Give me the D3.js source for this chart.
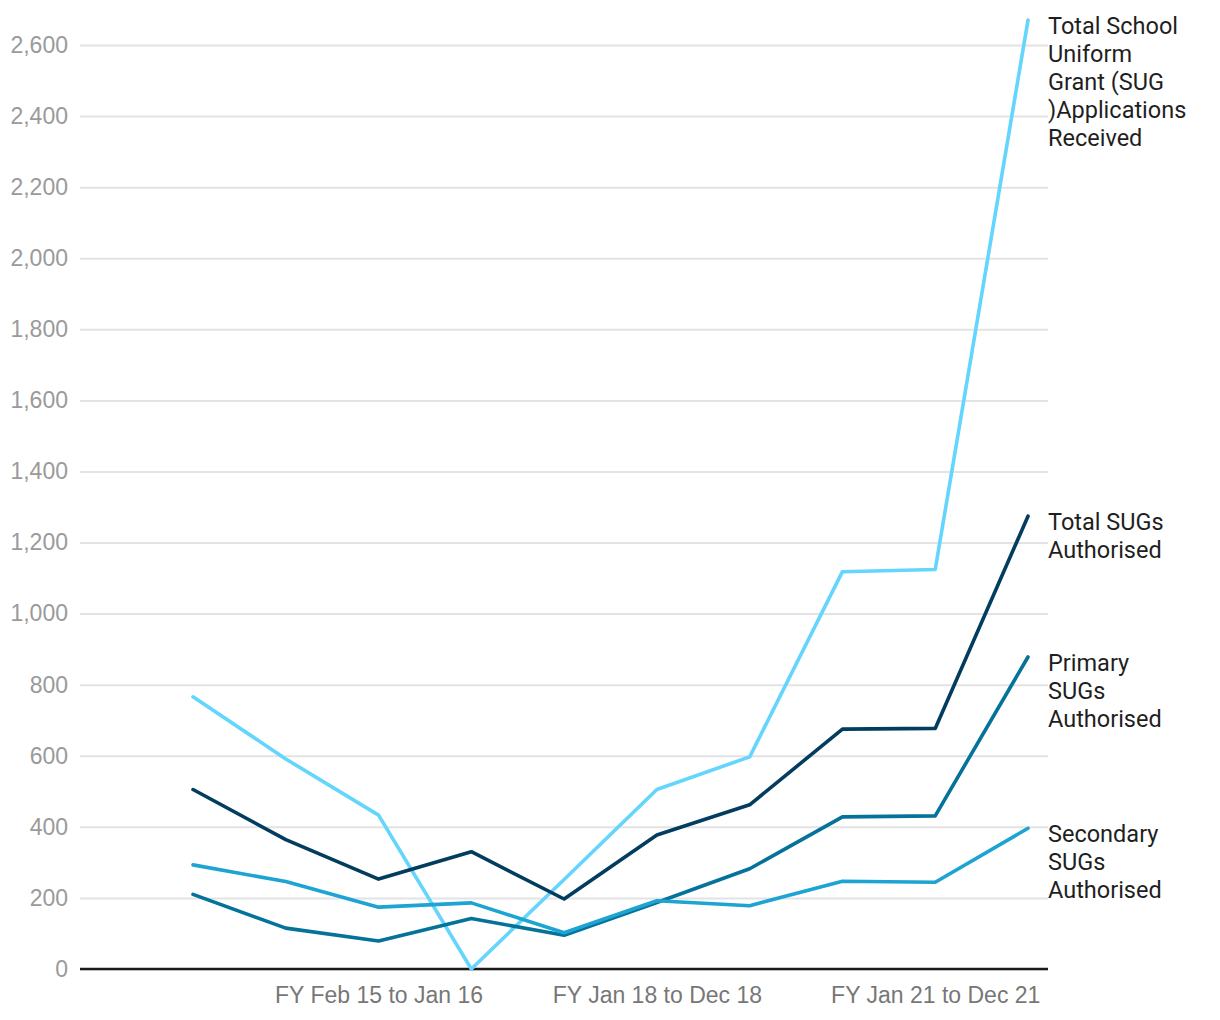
<!DOCTYPE html>
<html>
<head>
<meta charset="utf-8">
<script src="https://cdn.jsdelivr.net/npm/d3@7"></script>
<style>
  body { margin: 0; background: #fff; }
  svg { font-family: Roboto, "Noto Sans", sans-serif; }
</style>
</head>
<body>
<svg></svg>
<script>
const periods = [
  "FY Feb 13 to Jan 14", "FY Feb 14 to Jan 15", "FY Feb 15 to Jan 16",
  "FY Feb 16 to Jan 17", "FY Feb 17 to Jan 18", "FY Jan 18 to Dec 18",
  "FY Jan 19 to Dec 19", "FY Jan 20 to Dec 20", "FY Jan 21 to Dec 21",
  "FY Jan 22 to Dec 22"
];
const shownTicks = ["FY Feb 15 to Jan 16", "FY Jan 18 to Dec 18", "FY Jan 21 to Dec 21"];

const applications = [766, 591, 433, 0, 252, 505, 597, 1118, 1124, 2670];
const totalAuthorised = [505, 364, 253, 330, 197, 377, 462, 675, 677, 1274];
const primaryAuthorised = [210, 115, 79, 142, 95, 187, 282, 428, 431, 878];
const secondaryAuthorised = [293, 246, 174, 186, 102, 192, 178, 247, 244, 396];

const seriesNames = [
  ["Total School", "Uniform", "Grant (SUG", ")Applications", "Received"],
  ["Total SUGs", "Authorised"],
  ["Primary", "SUGs", "Authorised"],
  ["Secondary", "SUGs", "Authorised"]
];
const seriesColors = ["#64d5fc", "#023d5f", "#04729a", "#1da4d2"];
const yTicks = d3.range(0, 2601, 200);

const width = 1220;
const height = 1020;

const series = [applications, totalAuthorised, primaryAuthorised, secondaryAuthorised]
  .map((values, i) => ({ values, names: seriesNames[i], color: seriesColors[i] }));

const svg = d3.select('svg')
  .attr('width', width)
  .attr('height', height);

const plotLeft = 80;
const plotRight = 1048;

const x = d3.scalePoint()
  .domain(periods)
  .range([193, 1028]);

const y = d3.scaleLinear()
  .domain([0, 2600])
  .range([969, 45]);

// gridlines + y labels
const yAxis = svg.append('g')
  .attr('transform', `translate(${plotLeft},0)`)
  .call(d3.axisLeft(y)
    .tickValues(yTicks)
    .tickFormat(d3.format(','))
    .tickSize(-(plotRight - plotLeft))
    .tickPadding(12));

yAxis.select('.domain').remove();
yAxis.selectAll('.tick line')
  .attr('stroke', '#e3e3e3')
  .attr('stroke-width', 2);
yAxis.selectAll('.tick text')
  .attr('fill', '#9a9a9a')
  .attr('font-size', 23);

// x axis
const xAxis = svg.append('g')
  .attr('transform', `translate(0,${y(0)})`)
  .call(d3.axisBottom(x)
    .tickValues(shownTicks)
    .tickSize(0)
    .tickPadding(18));

xAxis.select('.domain').remove();
xAxis.append('line')
  .attr('x1', plotLeft)
  .attr('x2', plotRight)
  .attr('stroke', '#1a1a1a')
  .attr('stroke-width', 2.5);
xAxis.selectAll('.tick text')
  .attr('fill', '#777')
  .attr('font-size', 23);

const line = d3.line()
  .x((d, i) => x(periods[i]))
  .y(d => y(d));

const lines = svg.append('g')
  .classed('lines', true);

lines.selectAll('path')
  .data(series)
  .enter()
  .append('path')
  .attr('d', d => line(d.values))
  .attr('fill', 'none')
  .attr('stroke', d => d.color)
  .attr('stroke-width', 3.6)
  .attr('stroke-linejoin', 'round')
  .attr('stroke-linecap', 'round');

// end labels
const labels = svg.append('g')
  .classed('labels', true)
  .selectAll('text')
  .data(series)
  .enter()
  .append('text')
  .attr('x', plotRight)
  .attr('y', d => y(d.values[d.values.length - 1]) + 14)
  .attr('fill', '#1f1f1f')
  .attr('font-size', 23.5);

labels.selectAll('tspan')
  .data(d => d.names)
  .enter()
  .append('tspan')
  .attr('x', plotRight)
  .attr('dy', (d, i) => i === 0 ? 0 : 28)
  .text(d => d);
</script>
</body>
</html>
